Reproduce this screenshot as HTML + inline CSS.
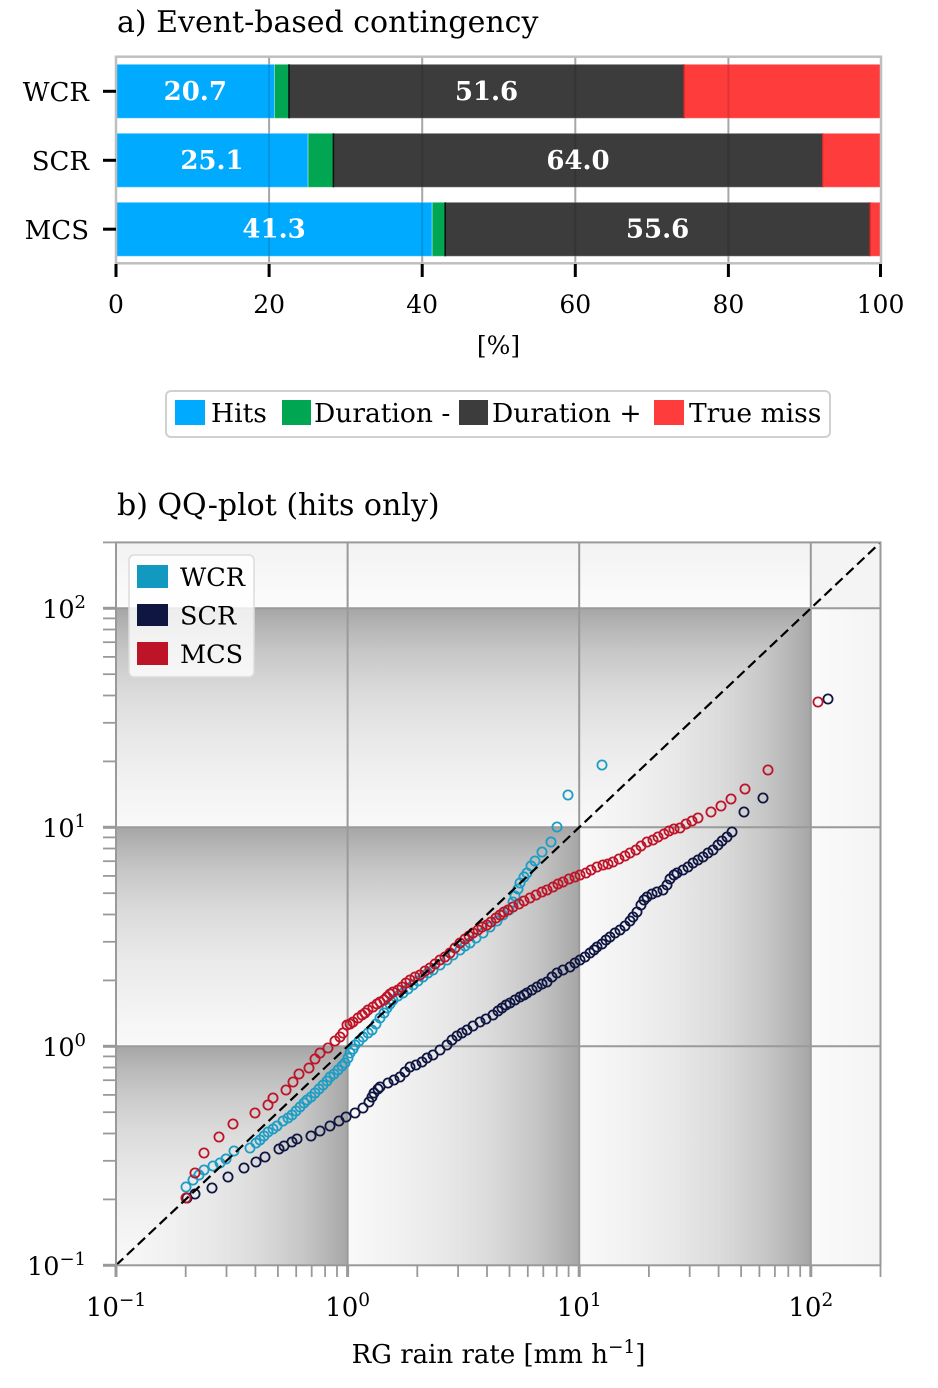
<!DOCTYPE html>
<html><head><meta charset="utf-8"><style>
html,body{margin:0;padding:0;background:#fff;}
svg{display:block;}
text{font-family:"DejaVu Serif","Liberation Serif",serif;fill:#000;}
</style></head><body>
<svg width="938" height="1388" viewBox="0 0 938 1388" xmlns="http://www.w3.org/2000/svg">
<defs>
<linearGradient id="gV" x1="0" y1="0" x2="0" y2="1">
<stop offset="0" stop-color="#a6a6a6"/><stop offset="0.1" stop-color="#b8b8b8"/><stop offset="0.2" stop-color="#c7c7c7"/><stop offset="0.3" stop-color="#d2d2d2"/><stop offset="0.4" stop-color="#dcdcdc"/><stop offset="0.6" stop-color="#e9e9e9"/><stop offset="0.8" stop-color="#f2f2f2"/><stop offset="1" stop-color="#f9f9f9"/>
</linearGradient>
<linearGradient id="gH" x1="0" y1="0" x2="1" y2="0">
<stop offset="0" stop-color="#f9f9f9"/><stop offset="0.2" stop-color="#f2f2f2"/><stop offset="0.4" stop-color="#e9e9e9"/><stop offset="0.6" stop-color="#dcdcdc"/><stop offset="0.7" stop-color="#d2d2d2"/><stop offset="0.8" stop-color="#c7c7c7"/><stop offset="0.9" stop-color="#b8b8b8"/><stop offset="1" stop-color="#a6a6a6"/>
</linearGradient>
<linearGradient id="pV" x1="0" y1="0" x2="0" y2="1"><stop offset="0" stop-color="#f2f2f2"/><stop offset="1" stop-color="#fcfcfc"/></linearGradient>
<linearGradient id="pH" x1="0" y1="0" x2="1" y2="0"><stop offset="0" stop-color="#fafafa"/><stop offset="1" stop-color="#f4f4f4"/></linearGradient>
<marker id="mW" markerWidth="12" markerHeight="12" refX="6" refY="6" markerUnits="userSpaceOnUse"><circle cx="6" cy="6" r="4.6" fill="none" stroke="#1d9dc4" stroke-width="1.8"/></marker>
<marker id="mS" markerWidth="12" markerHeight="12" refX="6" refY="6" markerUnits="userSpaceOnUse"><circle cx="6" cy="6" r="4.6" fill="none" stroke="#0f1642" stroke-width="1.8"/></marker>
<marker id="mM" markerWidth="12" markerHeight="12" refX="6" refY="6" markerUnits="userSpaceOnUse"><circle cx="6" cy="6" r="4.6" fill="none" stroke="#be1428" stroke-width="1.8"/></marker>
<clipPath id="cp"><rect x="116" y="542.4" width="764.5" height="722.9"/></clipPath>
</defs>

<!-- ============ PANEL A ============ -->
<text x="117" y="32" font-size="30">a) Event-based contingency</text>

<g stroke="#c0c0c0" stroke-width="2">
<line x1="269.1" y1="57" x2="269.1" y2="263"/>
<line x1="422.2" y1="57" x2="422.2" y2="263"/>
<line x1="575.3" y1="57" x2="575.3" y2="263"/>
<line x1="728.4" y1="57" x2="728.4" y2="263"/>
</g>

<g stroke="#ffffff" stroke-opacity="0.35" stroke-width="1">
<rect x="116" y="64.3" width="158.5" height="54" fill="#00aaff"/>
<rect x="274.5" y="64.3" width="14.5" height="54" fill="#00a651"/>
<rect x="289" y="64.3" width="395" height="54" fill="#3c3c3c"/>
<rect x="684" y="64.3" width="197" height="54" fill="#ff3c3c"/>

<rect x="116" y="133.3" width="192.1" height="54" fill="#00aaff"/>
<rect x="308.1" y="133.3" width="25.3" height="54" fill="#00a651"/>
<rect x="333.4" y="133.3" width="489.2" height="54" fill="#3c3c3c"/>
<rect x="822.6" y="133.3" width="58.4" height="54" fill="#ff3c3c"/>

<rect x="116" y="202.3" width="316.2" height="54" fill="#00aaff"/>
<rect x="432.2" y="202.3" width="13" height="54" fill="#00a651"/>
<rect x="445.2" y="202.3" width="424.8" height="54" fill="#3c3c3c"/>
<rect x="870" y="202.3" width="11" height="54" fill="#ff3c3c"/>
</g>
<g stroke="#111" stroke-width="1.6">
<line x1="289" y1="64.3" x2="289" y2="118.3"/>
<line x1="333.4" y1="133.3" x2="333.4" y2="187.3"/>
<line x1="445.2" y1="202.3" x2="445.2" y2="256.3"/>
</g>
<g stroke="#c00" stroke-width="1.4" stroke-opacity="0.7">
<line x1="684" y1="64.3" x2="684" y2="118.3"/>
<line x1="822.6" y1="133.3" x2="822.6" y2="187.3"/>
<line x1="870" y1="202.3" x2="870" y2="256.3"/>
</g>
<g stroke="#000" stroke-opacity="0.13" stroke-width="2">
<line x1="269.1" y1="57" x2="269.1" y2="263"/>
<line x1="422.2" y1="57" x2="422.2" y2="263"/>
<line x1="575.3" y1="57" x2="575.3" y2="263"/>
<line x1="728.4" y1="57" x2="728.4" y2="263"/>
</g>
<rect x="116" y="56.7" width="765" height="206.6" fill="none" stroke="#bfbfbf" stroke-width="2.5"/>

<g font-size="26" font-weight="bold" text-anchor="middle">
<text x="195.3" y="99.8" style="fill:#fff">20.7</text>
<text x="486.5" y="99.8" style="fill:#fff">51.6</text>
<text x="212" y="168.8" style="fill:#fff">25.1</text>
<text x="578" y="168.8" style="fill:#fff">64.0</text>
<text x="274.1" y="237.7" style="fill:#fff">41.3</text>
<text x="657.6" y="237.7" style="fill:#fff">55.6</text>
</g>

<g stroke="#000" stroke-width="3">
<line x1="103" y1="91.3" x2="116" y2="91.3"/>
<line x1="103" y1="160.3" x2="116" y2="160.3"/>
<line x1="103" y1="229.2" x2="116" y2="229.2"/>
</g>
<g font-size="26" text-anchor="end">
<text x="89" y="101">WCR</text>
<text x="89" y="170">SCR</text>
<text x="89" y="239">MCS</text>
</g>
<g stroke="#000" stroke-width="3">
<line x1="116" y1="264" x2="116" y2="277"/>
<line x1="269.1" y1="264" x2="269.1" y2="277"/>
<line x1="422.2" y1="264" x2="422.2" y2="277"/>
<line x1="575.3" y1="264" x2="575.3" y2="277"/>
<line x1="728.4" y1="264" x2="728.4" y2="277"/>
<line x1="880.5" y1="264" x2="880.5" y2="277"/>
</g>
<g font-size="25" text-anchor="middle">
<text x="116" y="313">0</text>
<text x="269.1" y="313">20</text>
<text x="422.2" y="313">40</text>
<text x="575.3" y="313">60</text>
<text x="728.4" y="313">80</text>
<text x="880.5" y="313">100</text>
<text x="498.5" y="354">[%]</text>
</g>

<rect x="166" y="391" width="664" height="46" rx="5" fill="#fff" stroke="#d0d0d0" stroke-width="2"/>
<rect x="175" y="400" width="30" height="25" fill="#00aaff"/>
<rect x="282" y="400" width="29" height="25" fill="#00a651"/>
<rect x="459" y="400" width="29" height="25" fill="#3c3c3c"/>
<rect x="654" y="400" width="30" height="25" fill="#ff3c3c"/>
<g font-size="26.5">
<text x="211" y="422">Hits</text>
<text x="314" y="422">Duration -</text>
<text x="492" y="422">Duration +</text>
<text x="689" y="422">True miss</text>
</g>

<!-- ============ PANEL B ============ -->
<text x="117" y="515" font-size="30">b) QQ-plot (hits only)</text>

<g clip-path="url(#cp)">
<rect x="116" y="542.4" width="764.5" height="722.9" fill="#fff"/>
<polygon points="116,1046.3 347.6,1046.3 116,1265.3" fill="url(#gV)"/>
<polygon points="116,1265.3 347.6,1046.3 347.6,1265.3" fill="url(#gH)"/>
<rect x="116" y="827.3" width="231.6" height="219" fill="url(#gV)"/>
<rect x="116" y="608.3" width="231.6" height="219" fill="url(#gV)"/>
<rect x="116" y="542.4" width="231.6" height="65.9" fill="url(#pV)"/>
<rect x="347.6" y="1046.3" width="231.6" height="219" fill="url(#gH)"/>
<polygon points="347.6,827.3 579.2,827.3 347.6,1046.3" fill="url(#gV)"/>
<polygon points="347.6,1046.3 579.2,827.3 579.2,1046.3" fill="url(#gH)"/>
<rect x="347.6" y="608.3" width="231.6" height="219" fill="url(#gV)"/>
<rect x="347.6" y="542.4" width="231.6" height="65.9" fill="url(#pV)"/>
<rect x="579.2" y="1046.3" width="231.6" height="219" fill="url(#gH)"/>
<rect x="579.2" y="827.3" width="231.6" height="219" fill="url(#gH)"/>
<polygon points="579.2,608.3 810.8,608.3 579.2,827.3" fill="url(#gV)"/>
<polygon points="579.2,827.3 810.8,608.3 810.8,827.3" fill="url(#gH)"/>
<rect x="579.2" y="542.4" width="231.6" height="65.9" fill="url(#pV)"/>
<rect x="810.8" y="608.3" width="70" height="657" fill="url(#pH)"/>
<rect x="810.8" y="542.4" width="70" height="65.9" fill="#f4f4f4"/>

<g stroke="#9a9a9a" stroke-width="2">
<line x1="347.6" y1="542" x2="347.6" y2="1266"/>
<line x1="579.2" y1="542" x2="579.2" y2="1266"/>
<line x1="810.8" y1="542" x2="810.8" y2="1266"/>
<line x1="116" y1="1046.3" x2="881" y2="1046.3"/>
<line x1="116" y1="827.3" x2="881" y2="827.3"/>
<line x1="116" y1="608.3" x2="881" y2="608.3"/>
</g>

<polyline fill="none" stroke="none" marker-start="url(#mW)" marker-mid="url(#mW)" marker-end="url(#mW)" points="186,1187 193,1180 199,1175 204,1170 213,1166 220,1163 226,1159 234,1151 250,1148 256,1143 260,1140 264,1136 268,1132 273,1129 277,1126 283,1121 288,1118 292,1115 296,1111 300,1107 304,1103 307,1100 311,1097 315,1093 319,1089 323,1085 327,1081 330,1077 334,1074 338,1070 342,1066 345,1063 348,1058 350,1053 353,1049 355,1045 359,1041 363,1037 368,1033 372,1030 376,1024 380,1018 384,1013 387,1008 390,1004 393,1000 398,996 403,993 408,989 413,985 418,981 423,977 428,973 433,970 440,965 447,960 453,955 460,950 465,946 470,943 476,938 483,933 490,927 497,921 503,915 509,910 513,902 515,896 518,889 520,883 524,877 527,873 531,866 535,861 542,852 551,842 557,827 568,795 602,765"/>

<polyline fill="none" stroke="none" marker-start="url(#mS)" marker-mid="url(#mS)" marker-end="url(#mS)" points="187,1198 195,1194 212,1188 228,1177 244,1168 256,1162 265,1157 279,1149 284,1146 292,1142 297,1139 311,1136 320,1131 330,1126 339,1121 346,1117 355,1113 363,1108 369,1102 372,1097 374,1093 378,1089 380,1087 388,1083 394,1080 400,1077 405,1072 410,1067 416,1065 422,1062 427,1058 433,1055 440,1050 447,1045 452,1040 457,1036 462,1033 467,1030 473,1026 480,1022 486,1019 493,1015 498,1011 502,1008 506,1005 510,1003 515,1000 520,997 524,995 527,993 532,990 537,987 542,984 547,982 552,977 557,973 563,970 570,967 575,963 580,960 585,957 590,953 594,950 597,947 602,944 606,940 610,937 615,933 620,930 625,926 630,921 633,917 637,912 641,905 644,900 647,897 652,894 657,892 663,890 667,885 670,879 674,875 677,873 683,870 688,867 693,863 698,860 703,857 708,853 713,850 718,845 722,841 727,837 732,832 744,812 763,798 828,699"/>

<polyline fill="none" stroke="none" marker-start="url(#mM)" marker-mid="url(#mM)" marker-end="url(#mM)" points="186,1198 195,1173 204,1153 219,1137 233,1124 255,1113 268,1105 273,1098 286,1090 293,1082 299,1074 309,1068 315,1059 320,1053 328,1048 335,1041 340,1037 343,1033 347,1025 350,1024 353,1022 358,1018 362,1015 365,1013 368,1010 373,1007 377,1004 380,1002 384,1000 387,997 390,994 393,992 398,990 402,987 406,983 410,980 415,977 420,975 425,971 430,968 435,964 440,960 445,957 450,953 455,948 460,943 465,939 469,936 473,933 478,930 482,927 487,925 491,922 496,918 500,915 504,912 508,910 513,907 519,904 524,901 530,898 536,895 542,892 547,890 553,887 558,884 563,882 569,879 575,877 580,875 586,873 591,870 597,867 603,865 608,864 613,862 619,859 625,856 630,853 636,850 641,846 647,842 653,840 658,837 664,834 669,831 674,829 680,828 686,824 692,821 698,818 711,812 721,806 731,799 745,789 768,770 818,702"/>

<line x1="116" y1="1265.3" x2="880.5" y2="542.4" stroke="#000" stroke-width="2.2" stroke-dasharray="10 5"/>
</g>

<rect x="116" y="542.4" width="764.5" height="722.9" fill="none" stroke="#999" stroke-width="2"/>

<g stroke="#999" stroke-width="3">
<line x1="103" y1="1265.3" x2="116" y2="1265.3"/>
<line x1="103" y1="1046.3" x2="116" y2="1046.3"/>
<line x1="103" y1="827.3" x2="116" y2="827.3"/>
<line x1="103" y1="608.3" x2="116" y2="608.3"/>
</g>
<g stroke="#999" stroke-width="1.8">
<line x1="103" y1="1199.4" x2="116" y2="1199.4"/><line x1="103" y1="1160.8" x2="116" y2="1160.8"/><line x1="103" y1="1133.5" x2="116" y2="1133.5"/><line x1="103" y1="1112.2" x2="116" y2="1112.2"/><line x1="103" y1="1094.9" x2="116" y2="1094.9"/><line x1="103" y1="1080.2" x2="116" y2="1080.2"/><line x1="103" y1="1067.5" x2="116" y2="1067.5"/><line x1="103" y1="1056.4" x2="116" y2="1056.4"/>
<line x1="103" y1="980.4" x2="116" y2="980.4"/><line x1="103" y1="941.8" x2="116" y2="941.8"/><line x1="103" y1="914.5" x2="116" y2="914.5"/><line x1="103" y1="893.2" x2="116" y2="893.2"/><line x1="103" y1="875.9" x2="116" y2="875.9"/><line x1="103" y1="861.2" x2="116" y2="861.2"/><line x1="103" y1="848.5" x2="116" y2="848.5"/><line x1="103" y1="837.4" x2="116" y2="837.4"/>
<line x1="103" y1="761.4" x2="116" y2="761.4"/><line x1="103" y1="722.8" x2="116" y2="722.8"/><line x1="103" y1="695.5" x2="116" y2="695.5"/><line x1="103" y1="674.2" x2="116" y2="674.2"/><line x1="103" y1="656.9" x2="116" y2="656.9"/><line x1="103" y1="642.2" x2="116" y2="642.2"/><line x1="103" y1="629.5" x2="116" y2="629.5"/><line x1="103" y1="618.4" x2="116" y2="618.4"/>
<line x1="103" y1="542.4" x2="116" y2="542.4"/>
</g>
<g stroke="#999" stroke-width="3">
<line x1="116" y1="1265" x2="116" y2="1277"/>
<line x1="347.6" y1="1265" x2="347.6" y2="1277"/>
<line x1="579.2" y1="1265" x2="579.2" y2="1277"/>
<line x1="810.8" y1="1265" x2="810.8" y2="1277"/>
</g>
<g stroke="#999" stroke-width="1.8">
<line x1="185.7" y1="1265" x2="185.7" y2="1277"/><line x1="226.5" y1="1265" x2="226.5" y2="1277"/><line x1="255.4" y1="1265" x2="255.4" y2="1277"/><line x1="277.9" y1="1265" x2="277.9" y2="1277"/><line x1="296.2" y1="1265" x2="296.2" y2="1277"/><line x1="311.7" y1="1265" x2="311.7" y2="1277"/><line x1="325.1" y1="1265" x2="325.1" y2="1277"/><line x1="337" y1="1265" x2="337" y2="1277"/>
<line x1="417.3" y1="1265" x2="417.3" y2="1277"/><line x1="458.1" y1="1265" x2="458.1" y2="1277"/><line x1="487" y1="1265" x2="487" y2="1277"/><line x1="509.5" y1="1265" x2="509.5" y2="1277"/><line x1="527.8" y1="1265" x2="527.8" y2="1277"/><line x1="543.3" y1="1265" x2="543.3" y2="1277"/><line x1="556.7" y1="1265" x2="556.7" y2="1277"/><line x1="568.6" y1="1265" x2="568.6" y2="1277"/>
<line x1="648.9" y1="1265" x2="648.9" y2="1277"/><line x1="689.7" y1="1265" x2="689.7" y2="1277"/><line x1="718.6" y1="1265" x2="718.6" y2="1277"/><line x1="741.1" y1="1265" x2="741.1" y2="1277"/><line x1="759.4" y1="1265" x2="759.4" y2="1277"/><line x1="774.9" y1="1265" x2="774.9" y2="1277"/><line x1="788.3" y1="1265" x2="788.3" y2="1277"/><line x1="800.2" y1="1265" x2="800.2" y2="1277"/>
<line x1="880.5" y1="1265" x2="880.5" y2="1277"/>
</g>

<g font-size="25.5" text-anchor="end">
<text x="86" y="618">10<tspan font-size="18" dy="-10">2</tspan></text>
<text x="86" y="837">10<tspan font-size="18" dy="-10">1</tspan></text>
<text x="86" y="1056">10<tspan font-size="18" dy="-10">0</tspan></text>
<text x="86" y="1275">10<tspan font-size="18" dy="-10">−1</tspan></text>
</g>
<g font-size="26" text-anchor="middle">
<text x="116" y="1316">10<tspan font-size="18.5" dy="-10">−1</tspan></text>
<text x="347.6" y="1316">10<tspan font-size="18.5" dy="-10">0</tspan></text>
<text x="579.2" y="1316">10<tspan font-size="18.5" dy="-10">1</tspan></text>
<text x="810.8" y="1316">10<tspan font-size="18.5" dy="-10">2</tspan></text>
<text x="498.5" y="1363">RG rain rate [mm h<tspan font-size="18.5" dy="-10">−1</tspan><tspan dy="10">]</tspan></text>
</g>

<rect x="129" y="555" width="125" height="122" rx="5" fill="#ffffff" fill-opacity="0.8" stroke="#dcdcdc" stroke-width="1.5"/>
<rect x="137" y="565" width="31" height="23" fill="#1199c0"/>
<rect x="137" y="604" width="31" height="22" fill="#0f1642"/>
<rect x="137" y="642" width="31" height="23" fill="#be1428"/>
<g font-size="25.5">
<text x="180" y="586">WCR</text>
<text x="180" y="624.5">SCR</text>
<text x="180" y="663">MCS</text>
</g>
</svg>
</body></html>
